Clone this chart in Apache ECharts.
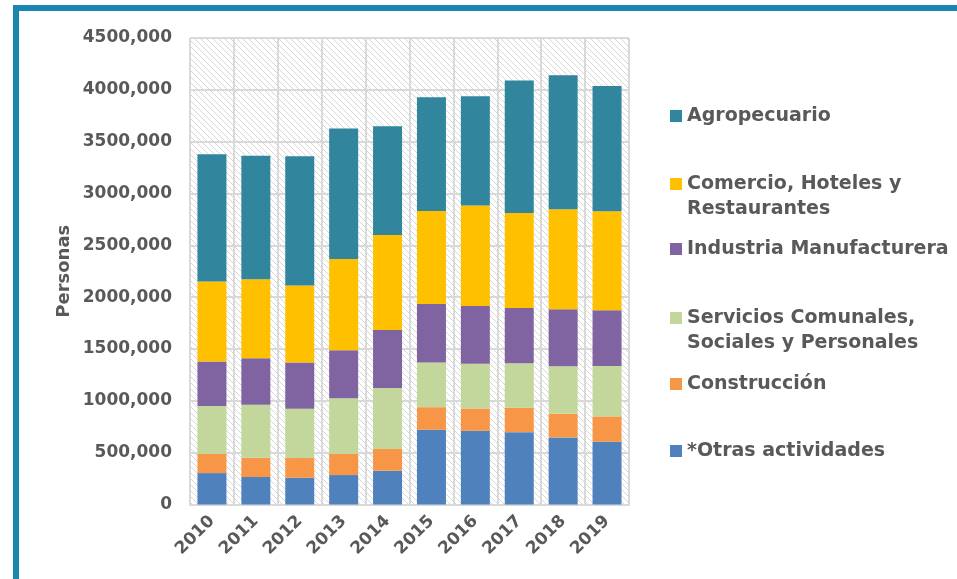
<!DOCTYPE html>
<html>
<head>
<meta charset="utf-8">
<script src="https://cdn.jsdelivr.net/npm/echarts@6/dist/echarts.min.js"></script>
<style>
  html, body { margin: 0; padding: 0; background: #fff; }
  #chart { width: 957px; height: 579px; }
</style>
</head>
<body>
<div id="chart"></div>
<script>
const years = ['2010', '2011', '2012', '2013', '2014', '2015', '2016', '2017', '2018', '2019'];

// personas por rama de actividad
const otras = [303000, 265000, 258000, 284000, 326000, 721000, 711000, 698000, 647000, 605000];
const construccion = [184000, 186000, 190000, 203000, 209000, 218000, 215000, 235000, 228000, 245000];
const servicios = [462000, 511000, 475000, 539000, 590000, 431000, 431000, 430000, 459000, 487000];
const industria = [431000, 449000, 447000, 462000, 559000, 565000, 558000, 533000, 549000, 537000];
const comercio = [770000, 761000, 742000, 880000, 915000, 896000, 970000, 916000, 964000, 954000];
const agro = [1229000, 1192000, 1248000, 1259000, 1050000, 1098000, 1054000, 1278000, 1294000, 1210000];

const yTicks = [0, 500000, 1000000, 1500000, 2000000, 2500000, 3000000, 3500000, 4000000, 4500000];

const seriesList = [
  { name: '*Otras actividades', data: otras, color: '#4f81bd', legendY: 451, lines: 1 },
  { name: 'Construcción', data: construccion, color: '#f79646', legendY: 384, lines: 1 },
  { name: 'Servicios Comunales,\nSociales y Personales', data: servicios, color: '#c3d69b', legendY: 318, lines: 2 },
  { name: 'Industria Manufacturera', data: industria, color: '#8064a2', legendY: 249, lines: 1 },
  { name: 'Comercio, Hoteles y\nRestaurantes', data: comercio, color: '#ffc000', legendY: 184, lines: 2 },
  { name: 'Agropecuario', data: agro, color: '#31859c', legendY: 116, lines: 1 }
];

const textColor = '#595959';
const font = 'DejaVu Sans';
const lineH = 25;

// fondo rayado del área de trazado
const hatch = document.createElement('canvas');
hatch.width = 6;
hatch.height = 6;
const hg = hatch.getContext('2d');
hg.fillStyle = '#ffffff';
hg.fillRect(0, 0, 6, 6);
hg.strokeStyle = '#d6d6d6';
hg.lineWidth = 1;
hg.beginPath();
hg.moveTo(-1, -1);
hg.lineTo(7, 7);
hg.stroke();

let chart = echarts.init(document.getElementById('chart'));

chart.setOption({
  animation: false,
  grid: {
    left: 190,
    top: 38,
    right: 328,
    bottom: 74.5,
    show: true,
    backgroundColor: { image: hatch, repeat: 'repeat' },
    borderColor: '#d9d9d9',
    borderWidth: 1
  },
  // una leyenda por serie; en las de dos líneas el cuadro va con la primera línea
  legend: seriesList.map(s => ({
    orient: 'vertical',
    left: 670,
    top: s.lines === 2 ? s.legendY - 1.5 * lineH : s.legendY - 0.5 * lineH,
    padding: 0,
    itemWidth: 12,
    itemHeight: 12,
    selectedMode: false,
    icon: 'rect',
    data: [s.name],
    formatter: name => s.lines === 2 ? '\n' + name : name,
    textStyle: {
      color: textColor,
      fontFamily: font,
      fontWeight: 'bold',
      fontSize: 19,
      lineHeight: lineH
    }
  })),
  xAxis: {
    type: 'category',
    data: years,
    axisLine: { lineStyle: { color: '#d9d9d9', width: 2 } },
    axisTick: { show: false },
    splitLine: { show: true, lineStyle: { color: '#d9d9d9', width: 2 } },
    axisLabel: {
      rotate: 45,
      margin: 14,
      color: textColor,
      fontFamily: font,
      fontWeight: 'bold',
      fontSize: 17
    }
  },
  yAxis: {
    type: 'value',
    min: yTicks[0],
    max: yTicks[yTicks.length - 1],
    interval: yTicks[1] - yTicks[0],
    name: 'Personas',
    nameLocation: 'middle',
    nameGap: 117,
    nameTextStyle: {
      color: textColor,
      fontFamily: font,
      fontWeight: 'bold',
      fontSize: 18
    },
    axisLine: { show: false },
    axisTick: { show: false },
    splitLine: { lineStyle: { color: '#d9d9d9', width: 2 } },
    axisLabel: {
      margin: 18,
      color: textColor,
      fontFamily: font,
      fontWeight: 'bold',
      fontSize: 17,
      formatter: v => v === 0 ? '0' : (v / 1000) + ',000'
    }
  },
  series: seriesList.map(s => ({
    name: s.name,
    type: 'bar',
    stack: 'total',
    barWidth: 29,
    data: s.data,
    itemStyle: { color: s.color }
  })),
  graphic: [{
    type: 'polyline',
    shape: { points: [[16, 579], [16, 8], [957, 8]] },
    style: { stroke: '#1a87b1', lineWidth: 6, fill: null }
  }]
});
</script>
</body>
</html>
